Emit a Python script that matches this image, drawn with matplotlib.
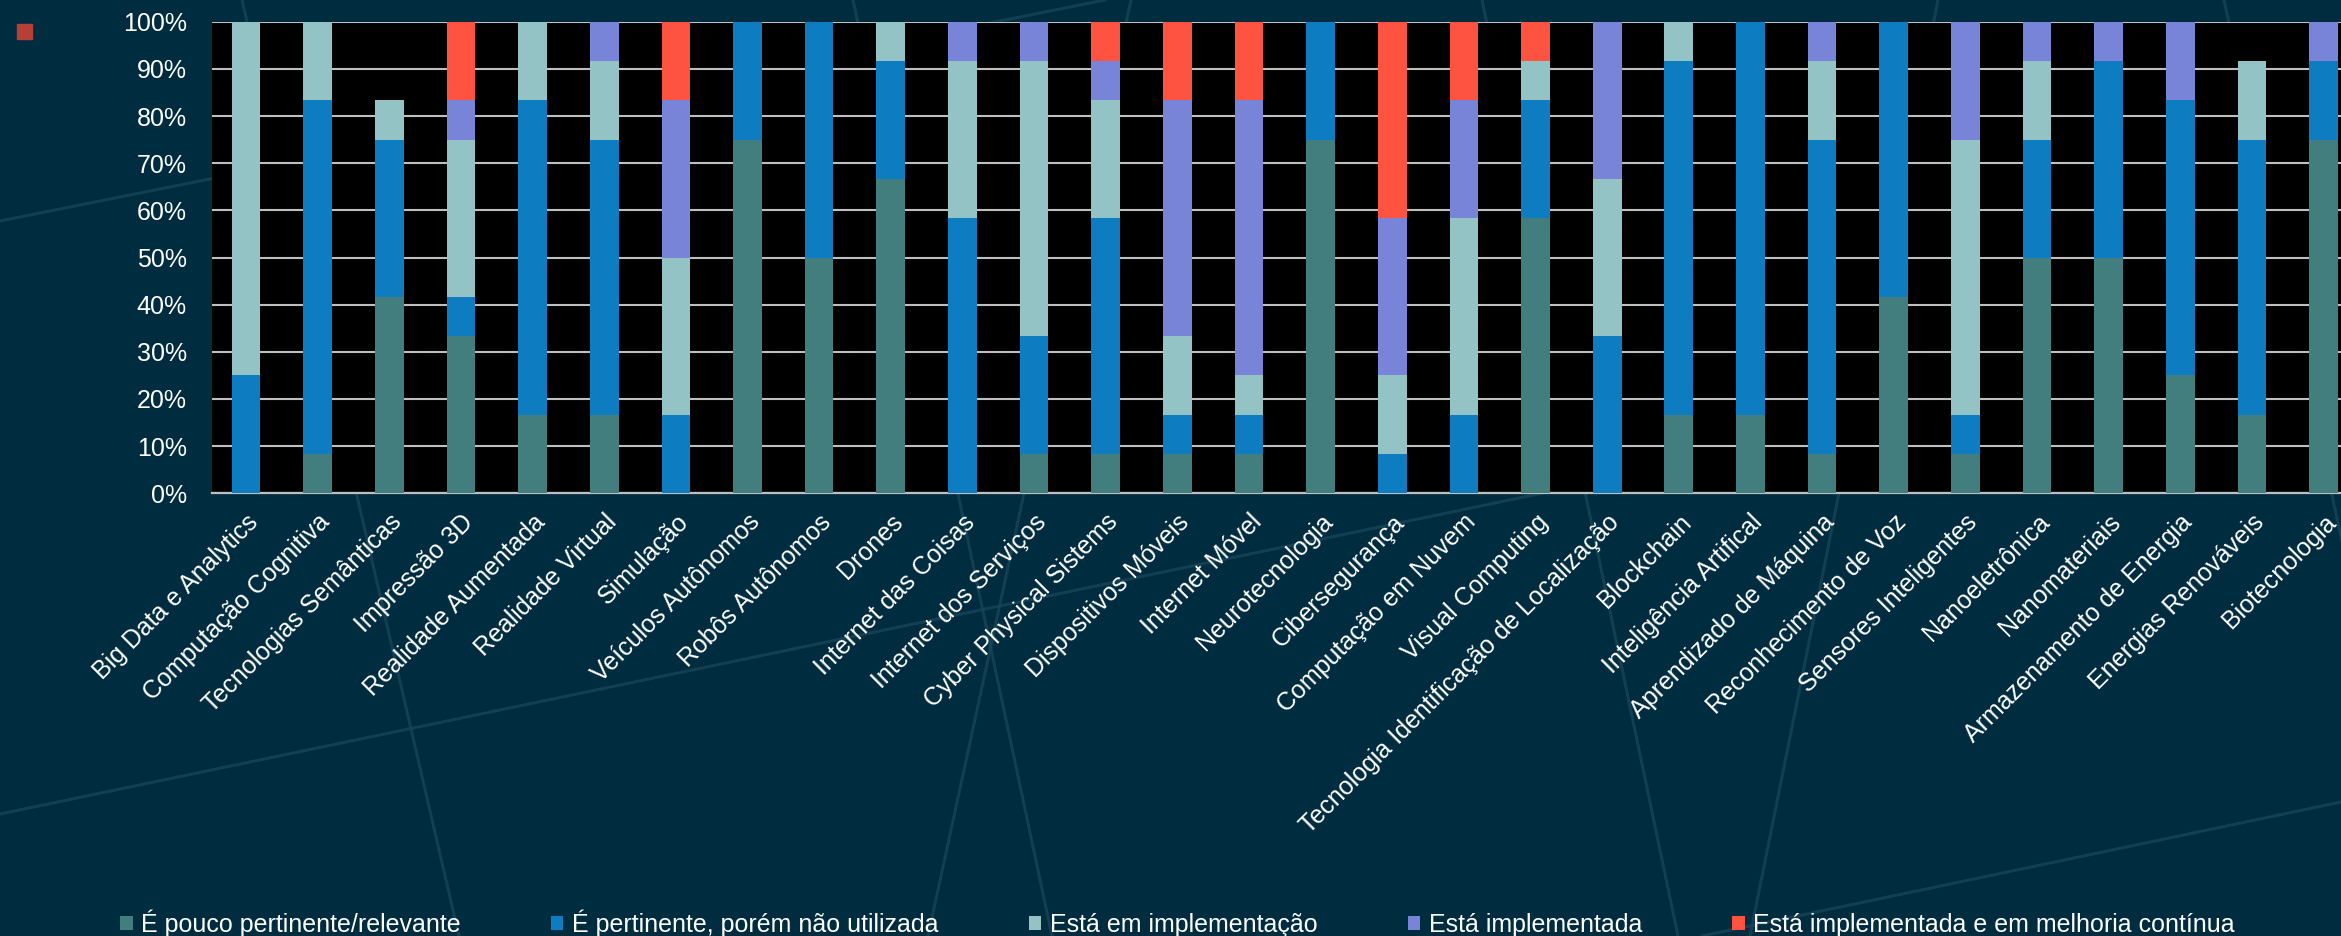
import numpy as np
import matplotlib
matplotlib.use('Agg')
import matplotlib.pyplot as plt
from matplotlib.patches import Patch, Rectangle
from matplotlib.lines import Line2D
from matplotlib.ticker import FuncFormatter

plt.rcParams['font.family'] = ['Liberation Sans', 'DejaVu Sans']

# categorias (tecnologias)
tecnologias = ['Big Data e Analytics', 'Computação Cognitiva', 'Tecnologias Semânticas',
               'Impressão 3D', 'Realidade Aumentada', 'Realidade Virtual', 'Simulação',
               'Veículos Autônomos', 'Robôs Autônomos', 'Drones', 'Internet das Coisas',
               'Internet dos Serviços', 'Cyber Physical Sistems', 'Dispositivos Móveis',
               'Internet Móvel', 'Neurotecnologia', 'Cibersegurança', 'Computação em Nuvem',
               'Visual Computing', 'Tecnologia Identificação de Localização', 'Blockchain',
               'Inteligência Artifical', 'Aprendizado de Máquina', 'Reconhecimento de Voz',
               'Sensores Inteligentes', 'Nanoeletrônica', 'Nanomateriais',
               'Armazenamento de Energia', 'Energias Renováveis', 'Biotecnologia']

# percentuais por resposta
pouco_pertinente = [0, 8.33, 41.67, 33.33, 16.67, 16.67, 0, 75, 50, 66.67,
                    0, 8.33, 8.33, 8.33, 8.33, 75, 0, 0, 58.33, 0,
                    16.67, 16.67, 8.33, 41.67, 8.33, 50, 50, 25, 16.67, 75]
pertinente_nao_usada = [25, 75, 33.33, 8.33, 66.67, 58.33, 16.67, 25, 50, 25,
                        58.33, 25, 50, 8.33, 8.33, 25, 8.33, 16.67, 25, 33.33,
                        75, 83.33, 66.67, 58.33, 8.33, 25, 41.67, 58.33, 58.33, 16.67]
em_implementacao = [75, 16.67, 8.33, 33.33, 16.67, 16.67, 33.33, 0, 0, 8.33,
                    33.33, 58.33, 25, 16.67, 8.33, 0, 16.67, 41.67, 8.33, 33.33,
                    8.33, 0, 16.67, 0, 58.33, 16.67, 0, 0, 16.67, 0]
implementada = [0, 0, 0, 8.33, 0, 8.33, 33.33, 0, 0, 0,
                8.33, 8.33, 8.33, 50, 58.33, 0, 33.33, 25, 0, 33.33,
                0, 0, 8.33, 0, 25, 8.33, 8.33, 16.67, 0, 8.33]
melhoria_continua = [0, 0, 0, 16.67, 0, 0, 16.67, 0, 0, 0,
                     0, 0, 8.33, 16.67, 16.67, 0, 41.67, 16.67, 8.33, 0,
                     0, 0, 0, 0, 0, 0, 0, 0, 0, 0]

series_labels = ['É pouco pertinente/relevante', 'É pertinente, porém não utilizada',
                 'Está em implementação', 'Está implementada',
                 'Está implementada e em melhoria contínua']
series = [pouco_pertinente, pertinente_nao_usada, em_implementacao, implementada, melhoria_continua]
cores = ['#427E7D', '#0E7CC1', '#93C3C5', '#7884D7', '#FF5341']

bg = '#002C40'
W, H = 2341, 936

fig = plt.figure(figsize=(W / 100, H / 100), dpi=100, facecolor=bg)

# linhas decorativas do fundo (tema)
deco = [((0, 221), (1105, 0)), ((0, 814), (2341, 327)), ((1702, 936), (2341, 802)),
        ((242, 0), (459, 936)), ((853, 0), (1052, 936)), ((1131, 0), (928, 936)),
        ((1938, 0), (1750, 936)), ((1482, 0), (1678, 936)), ((2224, 0), (2428, 936))]
for (x0, y0), (x1, y1) in deco:
    fig.add_artist(Line2D([x0 / W, x1 / W], [1 - y0 / H, 1 - y1 / H],
                          transform=fig.transFigure, color='#1A4659', lw=2.2,
                          alpha=0.75, zorder=-5))

left = 211.7 / W
bottom = 1 - 493.3 / H
top = 1 - 21.7 / H
ax = fig.add_axes([left, bottom, 1 - left, top - bottom])
ax.set_facecolor('black')

x = np.arange(len(tecnologias))
base = np.zeros(len(tecnologias))
for vals, lab, c in zip(series, series_labels, cores):
    vals = np.array(vals)
    ax.bar(x, vals, width=0.4, bottom=base, color=c, label=lab, zorder=3, linewidth=0)
    base += vals

ax.set_xlim(-0.479, 29.243)
ax.set_ylim(0, 100)
ax.set_yticks(np.arange(0, 101, 10))
ax.yaxis.set_major_formatter(FuncFormatter(lambda v, p: f'{int(v)}%'))
ax.yaxis.grid(True, color='#BFBFBF', lw=1.5, zorder=1)
ax.set_axisbelow(True)

for s in ['left', 'right', 'top']:
    ax.spines[s].set_visible(False)
ax.spines['bottom'].set_color('#BFBFBF')
ax.spines['bottom'].set_linewidth(1.6)

ax.tick_params(axis='y', length=0, pad=18, labelsize=18, labelcolor='white')
ax.tick_params(axis='x', length=0, pad=12, labelsize=18, labelcolor='white')
ax.set_xticks(x)
ax.set_xticklabels(tecnologias, rotation=45, ha='right', rotation_mode='anchor')

# legenda embaixo
handles = [Patch(facecolor=c, edgecolor='none') for c in cores]
fig.legend(handles, series_labels, loc='center left', bbox_to_anchor=(120 / W, 1 - 923 / H),
           ncol=5, frameon=False, fontsize=18, labelcolor='white',
           handlelength=0.5, handleheight=0.5, handletextpad=0.35,
           columnspacing=3.6, borderpad=0, borderaxespad=0)

# marcador solto no canto
fig.add_artist(Rectangle((17 / W, 1 - 39 / H), 15 / W, 15 / H,
                         transform=fig.transFigure, color='#B83F35'))

fig.savefig('out.png', dpi=100, facecolor=bg)
